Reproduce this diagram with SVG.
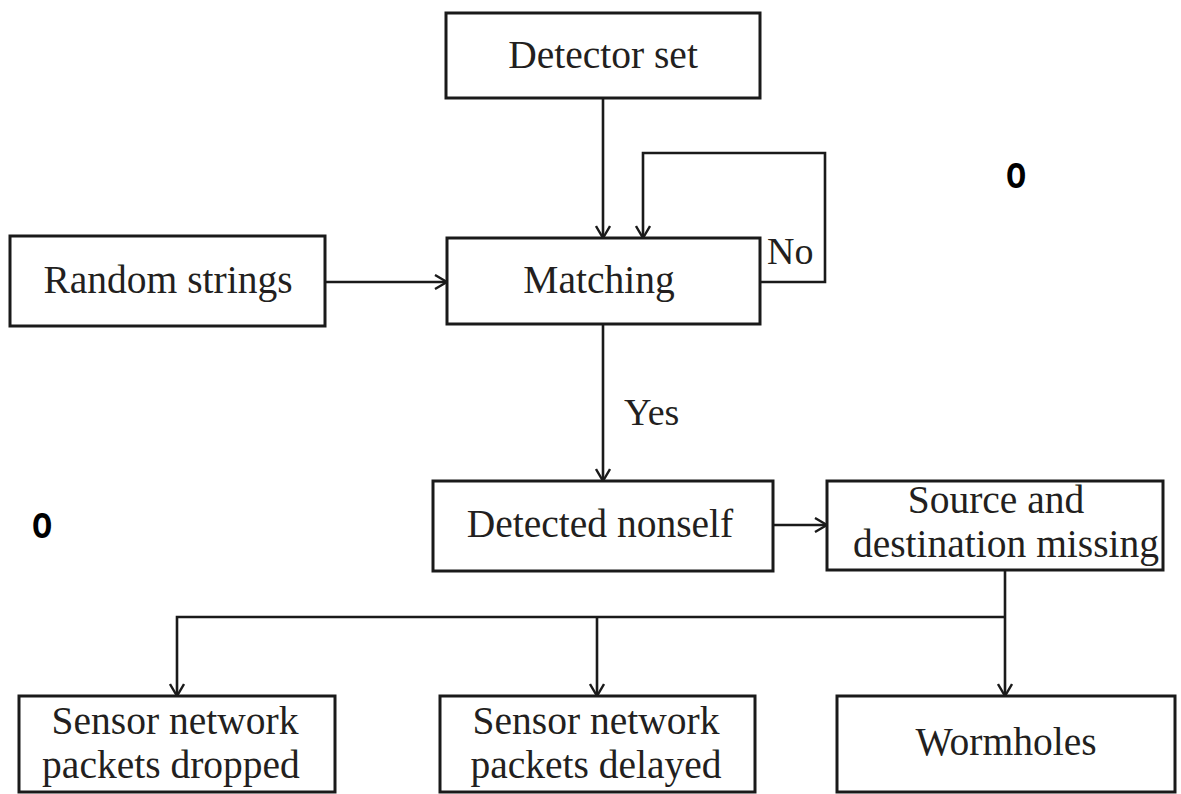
<svg xmlns="http://www.w3.org/2000/svg" width="1181" height="794" viewBox="0 0 1181 794">
  <defs>
    <marker id="arr" viewBox="0 0 14 16" refX="13" refY="8" markerWidth="14" markerHeight="16" markerUnits="userSpaceOnUse" orient="auto">
      <path d="M1,1 L13,8 L1,15" fill="none" stroke="#1a1a1a" stroke-width="2.4"/>
    </marker>
    <style>
      .box { fill: #ffffff; stroke: #1a1a1a; stroke-width: 3; }
      .lbl { font-family: "Liberation Serif", "Times New Roman", serif; font-size: 39.5px; fill: #231f20; text-anchor: middle; }
      .lbl2 { font-family: "Liberation Serif", "Times New Roman", serif; font-size: 38px; fill: #231f20; }
      .con { fill: none; stroke: #1a1a1a; stroke-width: 2.6; }
      .mark { font-family: "Liberation Sans", Arial, sans-serif; font-weight: bold; font-size: 46px; fill: #000; text-anchor: middle; }
    </style>
  </defs>
  <rect width="1181" height="794" fill="#ffffff"/>

  <g id="connectors">
    <path class="con" d="M603,98 L603,238" marker-end="url(#arr)"/>
    <path class="con" d="M760,282 L825,282 L825,153 L643,153 L643,238" marker-end="url(#arr)"/>
    <path class="con" d="M325,282 L447,282" marker-end="url(#arr)"/>
    <path class="con" d="M603,324 L603,481" marker-end="url(#arr)"/>
    <path class="con" d="M773,525 L827,525" marker-end="url(#arr)"/>
    <path class="con" d="M1005,570 L1005,696" marker-end="url(#arr)"/>
    <path class="con" d="M1005,617 L177,617 L177,696" marker-end="url(#arr)"/>
    <path class="con" d="M597,617 L597,696" marker-end="url(#arr)"/>
    <text class="lbl2" x="767" y="264">No</text>
    <text class="lbl2" x="624" y="425">Yes</text>
  </g>

  <g id="detector-set">
    <rect class="box" x="446" y="13" width="314" height="85"/>
    <text class="lbl" x="603" y="68">Detector set</text>
  </g>
  <g id="random-strings">
    <rect class="box" x="10" y="236" width="315" height="90"/>
    <text class="lbl" x="168" y="293">Random strings</text>
  </g>
  <g id="matching">
    <rect class="box" x="447" y="238" width="313" height="86"/>
    <text class="lbl" x="599" y="293">Matching</text>
  </g>
  <g id="detected-nonself">
    <rect class="box" x="433" y="481" width="340" height="90"/>
    <text class="lbl" x="600" y="537">Detected nonself</text>
  </g>
  <g id="source-destination">
    <rect class="box" x="827" y="481" width="336" height="89"/>
    <text class="lbl" x="996" y="513">Source and</text>
    <text class="lbl" x="1006" y="557">destination missing</text>
  </g>
  <g id="packets-dropped">
    <rect class="box" x="19" y="696" width="316" height="96"/>
    <text class="lbl" x="175" y="734">Sensor network</text>
    <text class="lbl" x="171" y="778">packets dropped</text>
  </g>
  <g id="packets-delayed">
    <rect class="box" x="440" y="696" width="315" height="96"/>
    <text class="lbl" x="596" y="734">Sensor network</text>
    <text class="lbl" x="596" y="778">packets delayed</text>
  </g>
  <g id="wormholes">
    <rect class="box" x="837" y="696" width="338" height="96"/>
    <text class="lbl" x="1006" y="755">Wormholes</text>
  </g>

  <g id="marks">
    <text class="mark" transform="translate(1016,188) scale(0.72,1)" x="0" y="0">o</text>
    <text class="mark" transform="translate(42,538) scale(0.72,1)" x="0" y="0">o</text>
  </g>
</svg>
